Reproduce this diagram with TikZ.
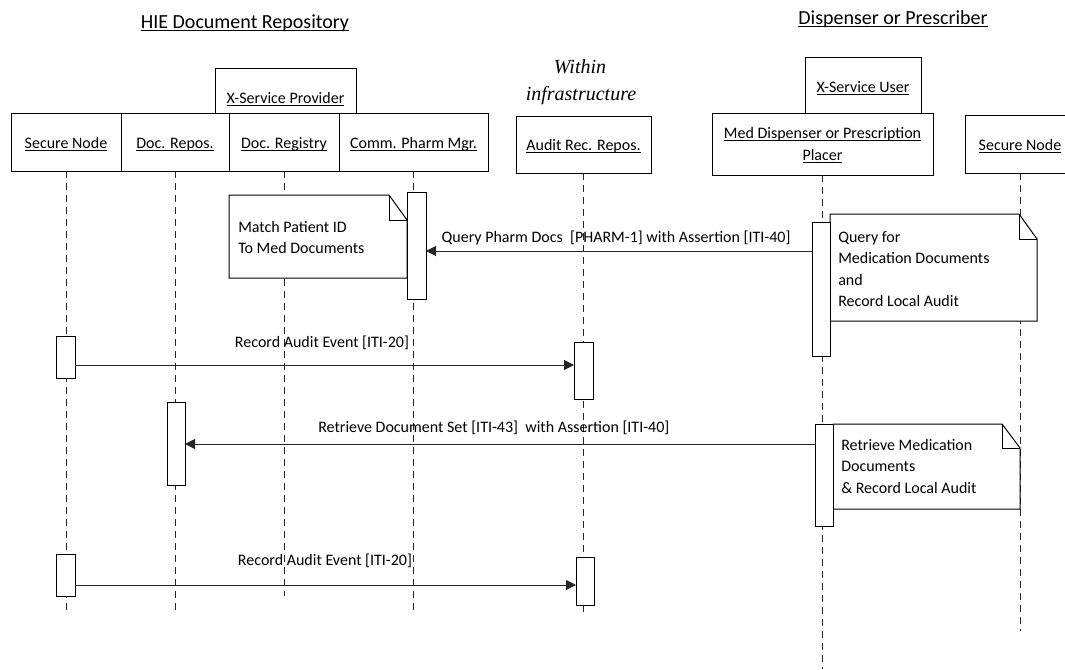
\documentclass[tikz,border=0pt]{standalone}
\usepackage{fontspec}
\setmainfont{Carlito}
\newfontfamily\serifit{Liberation Serif}
\newcommand\uln[1]{\underline{\smash{#1}}}
\usetikzlibrary{arrows.meta}
\newcommand\mkrect[6]{\node[#2, anchor=north west, minimum width={(#5-#3)*0.75pt}, minimum height={(#6-#4)*0.75pt}] (#1) at (#3,#4) {};}
\begin{document}
\begin{tikzpicture}[x=0.75pt,y=-0.75pt,
 box/.style={draw=black, line width=0.75pt, fill=white, inner sep=0pt, outer sep=0pt},
 bar/.style={box},
 notebg/.style={inner sep=0pt, outer sep=0pt},
 outline/.style={draw=black, line width=0.75pt, fill=white},
 foldline/.style={draw=black, line width=0.75pt},
 lbl/.style={anchor=base, inner sep=0pt, font=\fontsize{12pt}{15pt}\selectfont, text=black},
 ntxt/.style={lbl, anchor=base west},
 hdr/.style={anchor=base, inner sep=0pt, font=\fontsize{15pt}{18pt}\selectfont, text=black},
 hdrit/.style={hdr, font=\serifit\itshape\fontsize{15pt}{18pt}\selectfont},
 life/.style={draw=black!85, line width=0.75pt, dash pattern=on 5.25pt off 3.75pt},
 msg/.style={draw=black!85, line width=0.75pt, -{Triangle[length=7.5pt,width=7.5pt]}},
]
\useasboundingbox (0,0) rectangle (1065,669);
\clip (0,0) rectangle (1065,669);

% header boxes
\mkrect{xsp}{box}{215}{68}{356}{113}
\mkrect{xsu}{box}{805}{57}{921}{113}
% participant boxes
\mkrect{sn1}{box}{11}{113}{121}{171}
\mkrect{drp}{box}{121}{113}{229}{171}
\mkrect{drg}{box}{229}{113}{339}{171}
\mkrect{cpm}{box}{339}{113}{488}{171}
\mkrect{arr}{box}{516}{116}{651}{173}
\mkrect{med}{box}{712}{113}{933}{175}
\mkrect{sn2}{box}{965}{115}{1075}{173}

% lifeline ends
\coordinate (e1) at (66,613);
\coordinate (e2) at (175,613);
\coordinate (e3) at (284,596);
\coordinate (e4) at (413.5,614);
\coordinate (e5) at (583.5,613);
\coordinate (e6) at (822.5,669);
\coordinate (e7) at (1020,631);
\draw[life] (sn1.south) -- (e1);
\draw[life] (drp.south) -- (e2);
\draw[life] (drg.south) -- (e3);
\draw[life] (cpm.south) -- (e4);
\draw[life] (arr.south) -- (e5);
\draw[life] (med.south) -- (e6);
\draw[life] (sn2.south) -- (e7);

% notes
\mkrect{n1}{notebg}{229}{195}{407}{278}
\draw[outline] (n1.south west) -- (n1.north west) -- ([xshift=-13.5pt]n1.north east) -- ([yshift=-18.75pt]n1.north east) -- (n1.south east) -- cycle;
\draw[foldline] ([xshift=-13.5pt]n1.north east) -- ++(0,25) -- ++(18,0);
\mkrect{n2}{notebg}{830}{214}{1037}{321}
\draw[outline] (n2.south west) -- (n2.north west) -- ([xshift=-13.5pt]n2.north east) -- ([yshift=-18.75pt]n2.north east) -- (n2.south east) -- cycle;
\draw[foldline] ([xshift=-13.5pt]n2.north east) -- ++(0,25) -- ++(18,0);
\mkrect{n3}{notebg}{833}{424}{1020}{509}
\draw[outline] (n3.south west) -- (n3.north west) -- ([xshift=-13.5pt]n3.north east) -- ([yshift=-18pt]n3.north east) -- (n3.south east) -- cycle;
\draw[foldline] ([xshift=-13.5pt]n3.north east) -- ++(0,24) -- ++(18,0);

% activation bars
\mkrect{a1}{bar}{407}{192}{426}{299}
\mkrect{a2}{bar}{812}{222}{830}{356}
\mkrect{a3}{bar}{56}{336}{75}{378}
\mkrect{a4}{bar}{574}{342}{593}{399}
\mkrect{a5}{bar}{167}{402}{185}{485}
\mkrect{a6}{bar}{815}{424}{833}{526}
\mkrect{a7}{bar}{56}{554}{75}{596}
\mkrect{a8}{bar}{576}{557}{594}{605}

% messages
\coordinate (r1) at (0,251);
\coordinate (r2) at (0,365);
\coordinate (r3) at (0,444);
\coordinate (r4) at (0,585);
\draw[msg] (a2.west |- r1) -- (a1.east |- r1);
\draw[msg] (a3.east |- r2) -- (a4.west |- r2);
\draw[msg] (a6.west |- r3) -- (a5.east |- r3);
\draw[msg] (a7.east |- r4) -- (a8.west |- r4);

% headers
\node[hdr] (h1) at (245,28.5) {\uln{HIE Document Repository}};
\node[hdr] (h2) at (893,24.5) {\uln{Dispenser or Prescriber}};
\node[hdrit] (w1) at (580,73) {Within};
\node[hdrit] (w2) at (581,100) {infrastructure};

% box labels
\node[lbl] (t7) at (285.5,103) {\uln{X-Service Provider}};
\node[lbl] (t6) at (863,92) {\uln{X-Service User}};
\node[lbl] (t1) at (66,148) {\uln{Secure Node}};
\node[lbl] (t2) at (175,148) {\uln{Doc. Repos.}};
\node[lbl] (t3) at (284,148) {\uln{Doc. Registry}};
\node[lbl] (t4) at (413.5,148) {\uln{Comm. Pharm Mgr.}};
\node[lbl] (t5) at (583.5,150) {\uln{Audit Rec. Repos.}};
\node[lbl] (t8a) at (822.5,138) {\uln{Med Dispenser or Prescription}};
\node[lbl] (t8b) at (822.5,160) {\uln{Placer}};
\node[lbl] (t9) at (1020,150) {\uln{Secure Node}};

% note texts
\node[ntxt] (n1a) at (238,232) {Match Patient ID};
\node[ntxt] (n1b) at (238,253) {To Med Documents};
\node[ntxt] (n2a) at (838,242) {Query for};
\node[ntxt] (n2b) at (838,263.5) {Medication Documents};
\node[ntxt] (n2c) at (838,285) {and};
\node[ntxt] (n2d) at (838,306.5) {Record Local Audit};
\node[ntxt] (n3a) at (841,450) {Retrieve Medication};
\node[ntxt] (n3b) at (841,471.5) {Documents};
\node[ntxt] (n3c) at (841,493) {\& Record Local Audit};

% message labels
\node[lbl] (m1) at (616,242) {Query Pharm Docs\ \ [PHARM-1] with Assertion [ITI-40]};
\node[lbl] (m2) at (322,347) {Record Audit Event [ITI-20]};
\node[lbl, anchor=base west] (m3) at (318,432) {Retrieve Document Set [ITI-43]\ \ with Assertion [ITI-40]};
\node[lbl] (m4) at (325,565) {Record Audit Event [ITI-20]};
\end{tikzpicture}
\end{document}
